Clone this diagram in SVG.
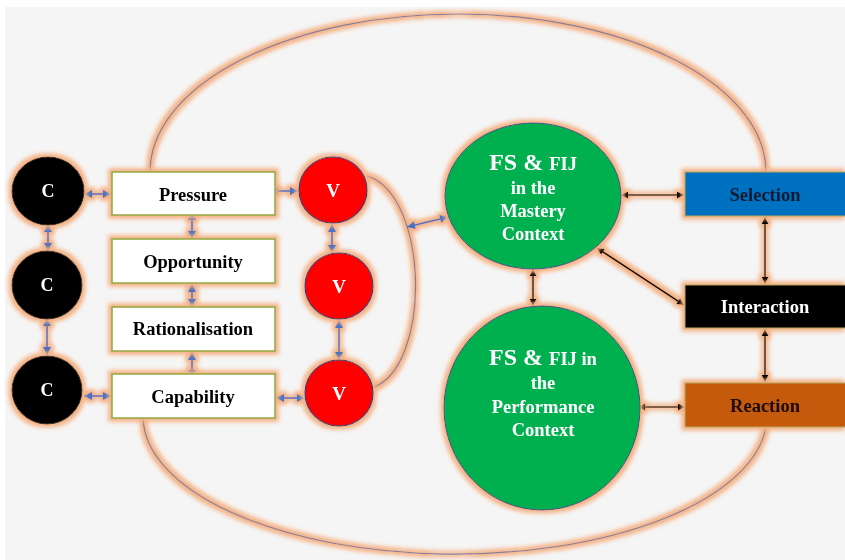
<svg xmlns="http://www.w3.org/2000/svg" width="845" height="560" viewBox="0 0 845 560">
<defs>
<filter id="glow" filterUnits="userSpaceOnUse" x="0" y="0" width="845" height="560">
<feMorphology in="SourceAlpha" operator="dilate" radius="2.8" result="d"/>
<feGaussianBlur in="d" stdDeviation="2" result="b"/>
<feFlood flood-color="#f4b183" flood-opacity="1"/>
<feComposite in2="b" operator="in" result="g"/>
<feMerge><feMergeNode in="g"/><feMergeNode in="SourceGraphic"/></feMerge>
</filter>
<marker id="ab" viewBox="0 0 10 10" refX="10" refY="5" markerWidth="9" markerHeight="8" markerUnits="userSpaceOnUse" orient="auto-start-reverse"><path d="M0,0 L10,5 L0,10 z" fill="#4472c4"/></marker>
<marker id="ak" viewBox="0 0 10 10" refX="10" refY="5" markerWidth="9" markerHeight="7" markerUnits="userSpaceOnUse" orient="auto-start-reverse"><path d="M0,0 L10,5 L0,10 z" fill="#000"/></marker>
<style>
.t{font-family:"Liberation Serif","Times New Roman",serif;font-weight:bold;text-anchor:middle}
.box{fill:#fff;stroke:#8fa83e;stroke-width:1.5}
.cc{fill:#000;stroke:#222;stroke-width:1}
.vv{fill:#ff0000;stroke:#2f3f7f;stroke-width:1.2}
.gg{fill:#00b050;stroke:#2e4f8f;stroke-width:1}
.rb{stroke:#b8a85a;stroke-width:1}
.arc{fill:none;stroke:#7f7fa0;stroke-width:1.2}
.bl{stroke:#4472c4;stroke-width:1.6;fill:none;marker-start:url(#ab);marker-end:url(#ab)}
.bk{stroke:#000;stroke-width:1.6;fill:none;marker-start:url(#ak);marker-end:url(#ak)}
</style>
</defs>
<rect width="845" height="560" fill="#fff"/>
<rect x="5" y="7" width="840" height="553" fill="#f5f5f5"/>

<g id="connectors" filter="url(#glow)">
<path class="arc" d="M150,172 A308,158 0 0 1 766,172"/>
<path class="arc" d="M143,418 A312,138 0 0 0 766,427"/>
<path class="arc" d="M367,176 C430,195 432,370 371,388"/>
<line class="bl" x1="84" y1="194" x2="111" y2="194"/>
<line class="bl" x1="270" y1="191" x2="298" y2="191"/>
<line class="bl" x1="84" y1="396" x2="111" y2="396"/>
<line class="bl" x1="276" y1="398" x2="305" y2="398"/>
<line class="bl" x1="48" y1="224" x2="48" y2="251"/>
<line class="bl" x1="47" y1="318" x2="47" y2="355"/>
<line class="bl" x1="192" y1="212" x2="192" y2="239"/>
<line class="bl" x1="192" y1="284" x2="192" y2="307"/>
<line class="bl" x1="192" y1="352" x2="192" y2="378"/>
<line class="bl" x1="332" y1="224" x2="332" y2="253"/>
<line class="bl" x1="339" y1="320" x2="339" y2="360"/>
<line class="bl" x1="407" y1="227" x2="448" y2="217"/>
<line class="bk" x1="621" y1="195" x2="684" y2="195"/>
<line class="bk" x1="597" y1="248" x2="684" y2="305"/>
<line class="bk" x1="765" y1="217" x2="765" y2="284"/>
<line class="bk" x1="765" y1="329" x2="765" y2="382"/>
<line class="bk" x1="533" y1="269" x2="533" y2="306"/>
<line class="bk" x1="638" y1="407" x2="685" y2="407"/>
</g>

<g id="c1" filter="url(#glow)"><ellipse class="cc" cx="48" cy="191" rx="36" ry="34"/><text class="t" x="48" y="197" font-size="18" fill="#fff">C</text></g>
<g id="c2" filter="url(#glow)"><ellipse class="cc" cx="47" cy="285" rx="35" ry="34"/><text class="t" x="47" y="291" font-size="18" fill="#fff">C</text></g>
<g id="c3" filter="url(#glow)"><ellipse class="cc" cx="47" cy="390" rx="35" ry="34"/><text class="t" x="47" y="396" font-size="18" fill="#fff">C</text></g>

<g id="pressure" filter="url(#glow)"><rect class="box" x="112" y="172" width="163" height="43"/><text class="t" x="193" y="201" font-size="18.5" fill="#000">Pressure</text></g>
<g id="opportunity" filter="url(#glow)"><rect class="box" x="112" y="239" width="163" height="44"/><text class="t" x="193" y="268" font-size="18.5" fill="#000">Opportunity</text></g>
<g id="rationalisation" filter="url(#glow)"><rect class="box" x="112" y="307" width="163" height="44"/><text class="t" x="193" y="335" font-size="18.5" fill="#000">Rationalisation</text></g>
<g id="capability" filter="url(#glow)"><rect class="box" x="112" y="374" width="163" height="44"/><text class="t" x="193" y="403" font-size="18.5" fill="#000">Capability</text></g>

<g id="v1" filter="url(#glow)"><ellipse class="vv" cx="333" cy="190" rx="34" ry="33"/><text class="t" x="333" y="197" font-size="19" fill="#fff">V</text></g>
<g id="v2" filter="url(#glow)"><ellipse class="vv" cx="339" cy="286" rx="34" ry="33"/><text class="t" x="339" y="293" font-size="19" fill="#fff">V</text></g>
<g id="v3" filter="url(#glow)"><ellipse class="vv" cx="339" cy="393" rx="34" ry="33"/><text class="t" x="339" y="400" font-size="19" fill="#fff">V</text></g>

<g id="mastery" filter="url(#glow)"><ellipse class="gg" cx="533" cy="196" rx="88" ry="73"/>
<text class="t" x="533" y="170" fill="#fff"><tspan font-size="24">FS &amp; </tspan><tspan font-size="18.5">FIJ</tspan></text>
<text class="t" x="533" y="194" font-size="18.5" fill="#fff">in the</text>
<text class="t" x="533" y="217" font-size="18.5" fill="#fff">Mastery</text>
<text class="t" x="533" y="240" font-size="18.5" fill="#fff">Context</text></g>

<g id="performance" filter="url(#glow)"><ellipse class="gg" cx="542" cy="408" rx="98" ry="102"/>
<text class="t" x="543" y="365" fill="#fff"><tspan font-size="24">FS &amp; </tspan><tspan font-size="18.5">FIJ in</tspan></text>
<text class="t" x="543" y="389" font-size="18.5" fill="#fff">the</text>
<text class="t" x="543" y="413" font-size="18.5" fill="#fff">Performance</text>
<text class="t" x="543" y="436" font-size="18.5" fill="#fff">Context</text></g>

<g id="selection" filter="url(#glow)"><rect class="rb" x="685" y="172" width="170" height="44" fill="#0070c0"/><text class="t" x="765" y="201" font-size="18.5" fill="#0f1a33">Selection</text></g>
<g id="interaction" filter="url(#glow)"><rect class="rb" x="685" y="285" width="170" height="43" fill="#000"/><text class="t" x="765" y="313" font-size="18.5" fill="#fff">Interaction</text></g>
<g id="reaction" filter="url(#glow)"><rect class="rb" x="685" y="383" width="170" height="44" fill="#c55a11"/><text class="t" x="765" y="412" font-size="18.5" fill="#1a0a00">Reaction</text></g>
</svg>
